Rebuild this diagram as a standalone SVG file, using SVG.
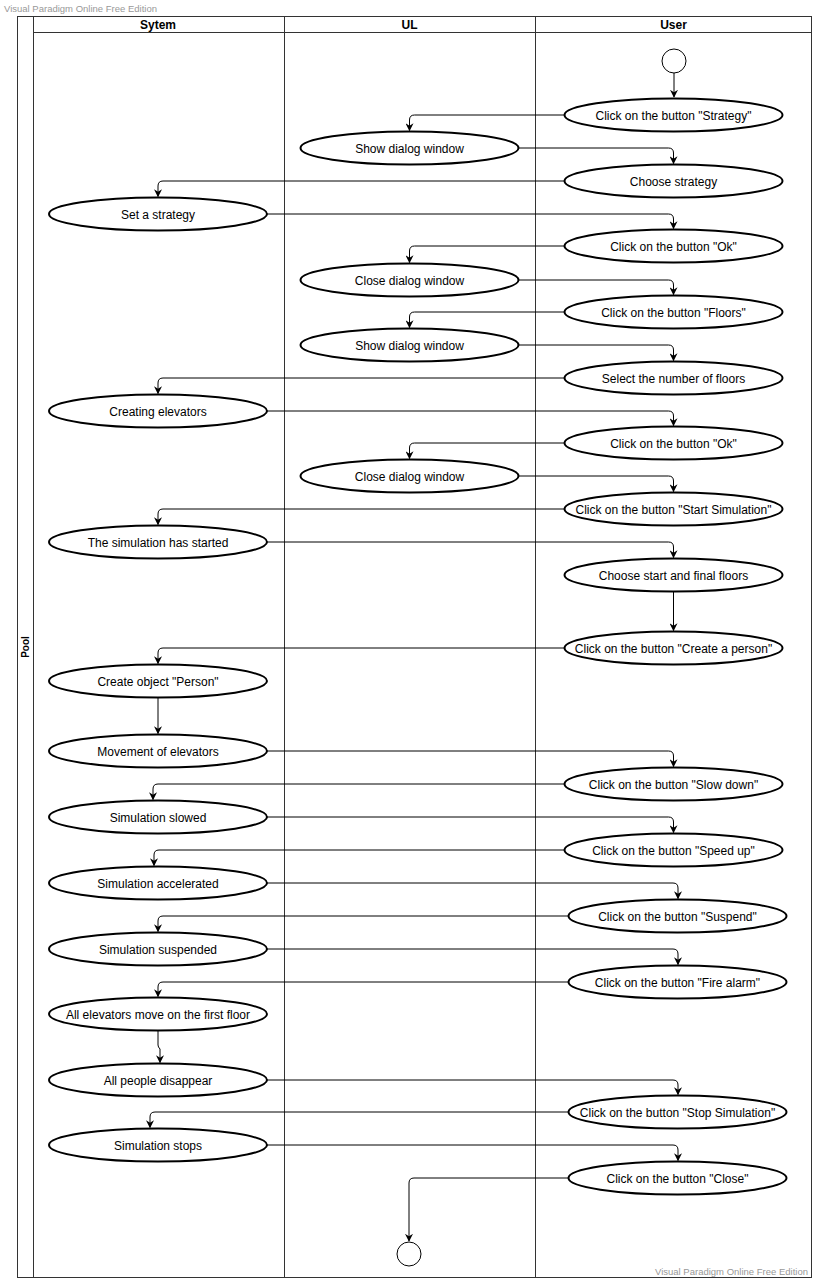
<svg xmlns="http://www.w3.org/2000/svg" width="813" height="1280" viewBox="0 0 813 1280">
<defs>
<marker id="arr" viewBox="0 0 10 10" refX="9" refY="5" markerWidth="8" markerHeight="8" markerUnits="userSpaceOnUse" orient="auto">
<path d="M0,0 L10,5 L0,10 L3,5 Z" fill="#000"/>
</marker>
</defs>
<style>
.lane{fill:none;stroke:#333;stroke-width:1}
.hdr{font-family:"Liberation Sans",Arial,sans-serif;font-size:12px;font-weight:bold;fill:#000;text-anchor:middle}
.wm{font-family:"Liberation Sans",Arial,sans-serif;font-size:9.5px;fill:#999}
.act ellipse{fill:#fff;stroke:#000;stroke-width:2}
.act text{font-family:"Liberation Sans",Arial,sans-serif;font-size:12px;fill:#000;text-anchor:middle;dominant-baseline:central;transform:translateY(0.8px)}
.term circle{fill:#fff;stroke:#000;stroke-width:1}
.conn path{fill:none;stroke:#000;stroke-width:1;marker-end:url(#arr)}
</style>
<rect width="813" height="1280" fill="#fff"/>
<text class="wm" x="4" y="12">Visual Paradigm Online Free Edition</text>
<g id="pool">
<rect class="lane" x="17.5" y="16.5" width="794" height="1261"/>
<line class="lane" x1="33.5" y1="16.5" x2="33.5" y2="1277.5"/>
<line class="lane" x1="33.5" y1="32.5" x2="811.5" y2="32.5"/>
<line class="lane" x1="284.5" y1="16.5" x2="284.5" y2="1277.5"/>
<line class="lane" x1="535.5" y1="16.5" x2="535.5" y2="1277.5"/>
<text class="hdr" x="158" y="29">Sytem</text>
<text class="hdr" x="409.5" y="29">UL</text>
<text class="hdr" x="673.5" y="29">User</text>
<text class="hdr" style="font-size:10px" transform="translate(28.5,647) rotate(-90)">Pool</text>
</g>
<text class="wm" x="808" y="1275" text-anchor="end">Visual Paradigm Online Free Edition</text>

<g id="connectors" class="conn">
<path d="M674,73 V97"/>
<path d="M565,115 H414.5 Q409.5,115 409.5,120 V130.5"/>
<path d="M518.5,148 H668.5 Q673.5,148 673.5,153 V163.5"/>
<path d="M565,181 H163 Q158,181 158,186 V196.5"/>
<path d="M267,214 H668.5 Q673.5,214 673.5,219 V228.5"/>
<path d="M565,246 H414.5 Q409.5,246 409.5,251 V262.5"/>
<path d="M518.5,280 H668.5 Q673.5,280 673.5,285 V294.5"/>
<path d="M565,312 H414.5 Q409.5,312 409.5,317 V327.5"/>
<path d="M518.5,345 H668.5 Q673.5,345 673.5,350 V360.5"/>
<path d="M565,378 H163 Q158,378 158,383 V393.5"/>
<path d="M267,411 H668.5 Q673.5,411 673.5,416 V425.5"/>
<path d="M565,443 H414.5 Q409.5,443 409.5,448 V458.5"/>
<path d="M518.5,476 H668.5 Q673.5,476 673.5,481 V491.5"/>
<path d="M565,509 H163 Q158,509 158,514 V524.5"/>
<path d="M267,542 H668.5 Q673.5,542 673.5,547 V557.5"/>
<path d="M673.5,591.5 V630.5"/>
<path d="M565,648 H163 Q158,648 158,653 V663.5"/>
<path d="M158,697.5 V733.5"/>
<path d="M267,751 H668.5 Q673.5,751 673.5,756 V766.5"/>
<path d="M565,784 H158 Q153,784 153,789 V799.5"/>
<path d="M267,817 H668.5 Q673.5,817 673.5,822 V832.5"/>
<path d="M565,850 H159 Q154,850 154,855 V865.5"/>
<path d="M267,883 H673 Q678,883 678,888 V898.5"/>
<path d="M568,916 H163 Q158,916 158,921 V931.5"/>
<path d="M267,949 H673 Q678,949 678,954 V964.5"/>
<path d="M568,982 H163 Q158,982 158,987 V996.5"/>
<path d="M158,1030.5 V1045 Q158,1047 160,1049 V1062.5"/>
<path d="M267,1080 H673 Q678,1080 678,1085 V1094.5"/>
<path d="M568,1112 H155 Q150,1112 150,1117 V1127.5"/>
<path d="M267,1145 H673 Q678,1145 678,1150 V1160.5"/>
<path d="M568,1178 H414 Q409,1178 409,1183 V1241"/>
</g>

<g id="start" class="term"><circle cx="674" cy="61" r="12"/></g>
<g id="end" class="term"><circle cx="409" cy="1254" r="12"/></g>

<g id="n1" class="act"><ellipse cx="673.5" cy="115" rx="109" ry="16.5"/><text x="673.5" y="115">Click on the button "Strategy"</text></g>
<g id="n2" class="act"><ellipse cx="409.5" cy="148" rx="109" ry="16.5"/><text x="409.5" y="148">Show dialog window</text></g>
<g id="n3" class="act"><ellipse cx="673.5" cy="181" rx="109" ry="16.5"/><text x="673.5" y="181">Choose strategy</text></g>
<g id="n4" class="act"><ellipse cx="158" cy="214" rx="109" ry="16.5"/><text x="158" y="214">Set a strategy</text></g>
<g id="n5" class="act"><ellipse cx="673.5" cy="246" rx="109" ry="16.5"/><text x="673.5" y="246">Click on the button "Ok"</text></g>
<g id="n6" class="act"><ellipse cx="409.5" cy="280" rx="109" ry="16.5"/><text x="409.5" y="280">Close dialog window</text></g>
<g id="n7" class="act"><ellipse cx="673.5" cy="312" rx="109" ry="16.5"/><text x="673.5" y="312">Click on the button "Floors"</text></g>
<g id="n8" class="act"><ellipse cx="409.5" cy="345" rx="109" ry="16.5"/><text x="409.5" y="345">Show dialog window</text></g>
<g id="n9" class="act"><ellipse cx="673.5" cy="378" rx="109" ry="16.5"/><text x="673.5" y="378">Select the number of floors</text></g>
<g id="n10" class="act"><ellipse cx="158" cy="411" rx="109" ry="16.5"/><text x="158" y="411">Creating elevators</text></g>
<g id="n11" class="act"><ellipse cx="673.5" cy="443" rx="109" ry="16.5"/><text x="673.5" y="443">Click on the button "Ok"</text></g>
<g id="n12" class="act"><ellipse cx="409.5" cy="476" rx="109" ry="16.5"/><text x="409.5" y="476">Close dialog window</text></g>
<g id="n13" class="act"><ellipse cx="673.5" cy="509" rx="109" ry="16.5"/><text x="673.5" y="509">Click on the button "Start Simulation"</text></g>
<g id="n14" class="act"><ellipse cx="158" cy="542" rx="109" ry="16.5"/><text x="158" y="542">The simulation has started</text></g>
<g id="n15" class="act"><ellipse cx="673.5" cy="575" rx="109" ry="16.5"/><text x="673.5" y="575">Choose start and final floors</text></g>
<g id="n16" class="act"><ellipse cx="673.5" cy="648" rx="109" ry="16.5"/><text x="673.5" y="648">Click on the button "Create a person"</text></g>
<g id="n17" class="act"><ellipse cx="158" cy="681" rx="109" ry="16.5"/><text x="158" y="681">Create object "Person"</text></g>
<g id="n18" class="act"><ellipse cx="158" cy="751" rx="109" ry="16.5"/><text x="158" y="751">Movement of elevators</text></g>
<g id="n19" class="act"><ellipse cx="673.5" cy="784" rx="109" ry="16.5"/><text x="673.5" y="784">Click on the button "Slow down"</text></g>
<g id="n20" class="act"><ellipse cx="158" cy="817" rx="109" ry="16.5"/><text x="158" y="817">Simulation slowed</text></g>
<g id="n21" class="act"><ellipse cx="673.5" cy="850" rx="109" ry="16.5"/><text x="673.5" y="850">Click on the button "Speed up"</text></g>
<g id="n22" class="act"><ellipse cx="158" cy="883" rx="109" ry="16.5"/><text x="158" y="883">Simulation accelerated</text></g>
<g id="n23" class="act"><ellipse cx="677.5" cy="916" rx="109" ry="16.5"/><text x="677.5" y="916">Click on the button "Suspend"</text></g>
<g id="n24" class="act"><ellipse cx="158" cy="949" rx="109" ry="16.5"/><text x="158" y="949">Simulation suspended</text></g>
<g id="n25" class="act"><ellipse cx="677.5" cy="982" rx="109" ry="16.5"/><text x="677.5" y="982">Click on the button "Fire alarm"</text></g>
<g id="n26" class="act"><ellipse cx="158" cy="1014" rx="109" ry="16.5"/><text x="158" y="1014">All elevators move on the first floor</text></g>
<g id="n27" class="act"><ellipse cx="158" cy="1080" rx="109" ry="16.5"/><text x="158" y="1080">All people disappear</text></g>
<g id="n28" class="act"><ellipse cx="677.5" cy="1112" rx="109" ry="16.5"/><text x="677.5" y="1112">Click on the button "Stop Simulation"</text></g>
<g id="n29" class="act"><ellipse cx="158" cy="1145" rx="109" ry="16.5"/><text x="158" y="1145">Simulation stops</text></g>
<g id="n30" class="act"><ellipse cx="677.5" cy="1178" rx="109" ry="16.5"/><text x="677.5" y="1178">Click on the button "Close"</text></g>
</svg>
